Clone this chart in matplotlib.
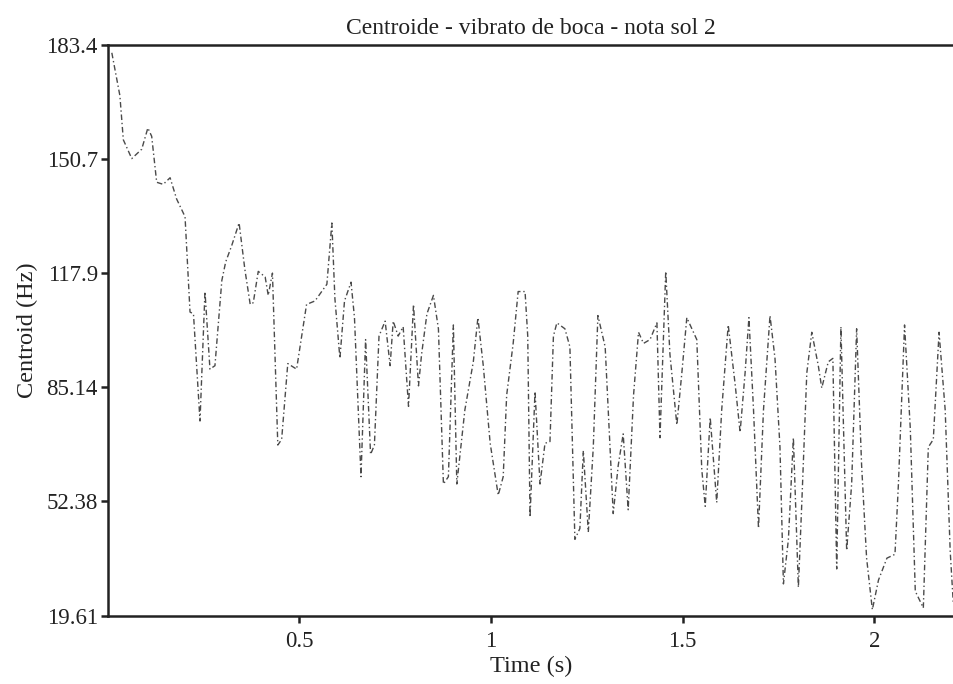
import matplotlib
matplotlib.use("Agg")
import matplotlib.pyplot as plt

# Time (s) and spectral centroid (Hz)
time_s = [0.011, 0.032, 0.041, 0.063, 0.089, 0.105, 0.115, 0.128, 0.145, 0.163,
          0.180, 0.202, 0.215, 0.224, 0.241, 0.254, 0.267, 0.280, 0.298, 0.308,
          0.324, 0.343, 0.358, 0.372, 0.380, 0.393, 0.411, 0.419, 0.430, 0.444,
          0.454, 0.470, 0.493, 0.519, 0.541, 0.572, 0.585, 0.593, 0.606, 0.618,
          0.635, 0.644, 0.661, 0.673, 0.686, 0.696, 0.708, 0.724, 0.737, 0.745,
          0.758, 0.771, 0.785, 0.798, 0.811, 0.819, 0.833, 0.850, 0.863, 0.876,
          0.889, 0.902, 0.911, 0.932, 0.954, 0.966, 0.980, 0.998, 1.019, 1.032,
          1.041, 1.058, 1.071, 1.089, 1.096, 1.102, 1.115, 1.128, 1.141, 1.154,
          1.163, 1.172, 1.193, 1.206, 1.219, 1.232, 1.241, 1.254, 1.267, 1.279,
          1.298, 1.319, 1.332, 1.345, 1.358, 1.372, 1.385, 1.398, 1.415, 1.433,
          1.441, 1.456, 1.467, 1.485, 1.498, 1.511, 1.537, 1.550, 1.559, 1.572,
          1.589, 1.602, 1.619, 1.637, 1.650, 1.663, 1.673, 1.685, 1.698, 1.711,
          1.728, 1.741, 1.754, 1.763, 1.776, 1.789, 1.802, 1.811, 1.824, 1.837,
          1.854, 1.863, 1.880, 1.892, 1.902, 1.913, 1.928, 1.941, 1.954, 1.967,
          1.980, 1.995, 2.011, 2.033, 2.054, 2.063, 2.079, 2.094, 2.107, 2.128,
          2.141, 2.154, 2.169, 2.185, 2.198, 2.206]
centroid_hz = [181.3, 169.0, 156.3, 150.9, 153.6, 159.7, 157.3, 144.1, 143.5, 145.4,
               139.3, 134.2, 106.8, 106.3, 75.5, 112.7, 90.4, 91.4, 115.9, 121.2,
               126.0, 132.4, 119.1, 109.0, 109.5, 118.5, 116.9, 111.6, 118.0, 68.6,
               70.2, 92.0, 90.4, 109.0, 110.0, 114.8, 132.4, 110.6, 93.5, 110.0,
               115.4, 105.2, 59.5, 98.9, 65.9, 68.6, 99.9, 104.2, 91.4, 104.2,
               99.9, 102.6, 79.7, 109.0, 85.6, 94.6, 106.3, 111.6, 102.0, 57.4,
               59.5, 103.1, 57.4, 78.7, 92.5, 105.2, 91.4, 69.1, 54.2, 59.5,
               82.9, 97.8, 112.7, 112.7, 99.9, 47.9, 84.0, 57.4, 69.1, 69.6,
               99.9, 103.7, 102.0, 96.8, 41.5, 44.6, 67.0, 43.6, 68.0, 105.8,
               96.8, 48.9, 62.7, 71.8, 50.0, 82.9, 101.0, 97.8, 98.9, 103.7,
               70.7, 118.5, 94.6, 74.4, 89.3, 105.2, 98.9, 61.6, 51.0, 76.5,
               52.1, 78.7, 103.1, 86.1, 72.3, 89.3, 105.2, 78.7, 44.7, 78.7,
               105.8, 93.5, 68.0, 28.7, 41.5, 70.7, 27.7, 52.1, 89.3, 101.0,
               91.4, 85.0, 92.5, 93.5, 33.0, 102.6, 38.3, 57.4, 102.0, 62.7,
               36.1, 21.3, 29.8, 36.1, 37.2, 57.4, 103.1, 73.3, 26.6, 21.8,
               68.0, 70.2, 101.0, 78.7, 38.3, 23.4]

y_ticks = [19.61, 52.38, 85.14, 117.9, 150.7, 183.4]
y_tick_labels = ["19.61", "52.38", "85.14", "117.9", "150.7", "183.4"]
x_ticks = [0.5, 1, 1.5, 2]
x_tick_labels = ["0.5", "1", "1.5", "2"]

plt.rcParams['font.family'] = ['Liberation Serif', 'DejaVu Serif']

fig = plt.figure(figsize=(9.54, 6.84), dpi=100)
ax = fig.add_axes([0.1128, 0.1001, 0.8872, 0.8334])

ax.plot(time_s, centroid_hz, color='#4a4a4a', linewidth=1.0,
        linestyle=(0, (4, 2, 1, 2)))

ax.set_xlim(0, 2.208)
ax.set_ylim(19.61, 183.4)
ax.set_yticks(y_ticks)
ax.set_yticklabels(y_tick_labels)
ax.set_xticks(x_ticks)
ax.set_xticklabels(x_tick_labels)

for s in ['left', 'top', 'bottom']:
    ax.spines[s].set_linewidth(1.8)
    ax.spines[s].set_color('#222222')
ax.spines['right'].set_visible(False)

ax.tick_params(axis='both', direction='out', length=5, width=1.8,
               labelsize=16.5, colors='#222222', pad=2)
ax.tick_params(axis='x', pad=6)

ax.set_title("Centroide - vibrato de boca - nota sol 2", fontsize=17,
             color='#222222', pad=8)
ax.set_xlabel("Time (s)", fontsize=17.5, color='#222222', labelpad=3)
ax.set_ylabel("Centroid (Hz)", fontsize=17.5, color='#222222', labelpad=6)

fig.savefig("out.png", dpi=100)
